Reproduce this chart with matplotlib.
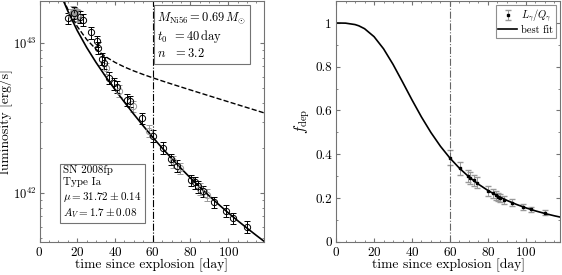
import numpy as np
import matplotlib.pyplot as plt
from matplotlib.ticker import MultipleLocator, LogLocator, NullFormatter, FixedLocator

plt.rcParams['font.family'] = 'serif'
plt.rcParams['font.serif'] = ['cmr10']
plt.rcParams['mathtext.fontset'] = 'cm'
plt.rcParams['axes.formatter.use_mathtext'] = True
plt.rcParams['axes.unicode_minus'] = False

# observed bolometric light curve (luminosity in 1e42 erg/s)
t_obs = [15.3, 16.8, 17.5, 18.2, 19.0, 19.8, 20.6, 21.5, 23.2, 27.1, 30.3, 31.2, 33.3, 34.4,
         35.3, 37.0, 39.7, 40.9, 42.3, 46.2, 48.0, 49.8, 54.5, 57.8, 60.0, 65.2, 69.6, 70.6,
         72.8, 74.2, 80.2, 82.5, 84.2, 85.1, 86.4, 88.7, 92.7, 98.6, 102.8, 109.9]
L_obs = [14.7, 15.5, 16.2, 16.0, 15.8, 15.5, 15.2, 15.0, 14.3, 11.8, 10.3, 9.3, 7.9, 7.4,
         6.8, 5.9, 5.4, 5.1, 4.8, 4.2, 4.1, 3.8, 3.16, 2.6, 2.4, 2.0, 1.69, 1.63,
         1.53, 1.47, 1.22, 1.18, 1.11, 1.07, 1.03, 0.975, 0.87, 0.762, 0.68, 0.60]
L_err = [1.3, 1.4, 1.5, 1.4, 1.4, 1.4, 1.4, 1.35, 1.3, 1.05, 0.93, 0.84, 0.71, 0.67,
         0.61, 0.53, 0.49, 0.46, 0.43, 0.38, 0.37, 0.34, 0.28, 0.23, 0.22, 0.18, 0.15, 0.15,
         0.14, 0.13, 0.11, 0.106, 0.10, 0.096, 0.093, 0.088, 0.078, 0.069, 0.061, 0.054]
grey_pts = [16.8, 17.5, 19.0, 19.8, 20.6, 35.3, 42.3, 49.8, 57.8, 70.6, 74.2, 85.1, 88.7]

# model curves
t_lum = [10, 12, 15, 20, 25, 30, 35, 40, 45, 50, 55, 60, 65, 70, 75, 80, 85, 90, 95,
         100, 105, 110, 115, 120]
Q_mod = [23.44, 20.36, 16.84, 12.94, 10.59, 9.114, 8.140, 7.458, 6.945, 6.536, 6.190, 5.885,
         5.607, 5.350, 5.109, 4.881, 4.665, 4.459, 4.262, 4.075, 3.895, 3.724, 3.561, 3.404]
L_mod = [23.27, 20.10, 16.41, 12.15, 9.369, 7.435, 6.009, 4.913, 4.050, 3.363, 2.810, 2.363,
         2.002, 1.707, 1.464, 1.264, 1.097, 0.958, 0.841, 0.741, 0.657, 0.585, 0.5225, 0.468]

t_f = [0, 5, 10, 12, 15, 20, 25, 30, 35, 40, 45, 50, 55, 60, 65, 70, 75, 80, 85, 90, 95,
       100, 105, 110, 115, 120]
f_mod = [1.0, 0.9992, 0.9927, 0.987, 0.9739, 0.9375, 0.8821, 0.8109, 0.7306, 0.6484, 0.570,
         0.4989, 0.4362, 0.3822, 0.336, 0.2965, 0.263, 0.2344, 0.2099, 0.1889, 0.1707,
         0.1549, 0.1411, 0.1291, 0.1185, 0.109]

# deposition fraction L_gamma/Q_gamma
t_dep = [60.0, 65.2, 69.6, 70.6, 72.8, 74.2, 80.2, 82.5, 84.2, 85.1, 86.4, 88.7, 92.7, 98.6,
         102.8, 109.9]
f_obs = [0.385, 0.335, 0.300, 0.292, 0.282, 0.270, 0.232, 0.222, 0.212, 0.205, 0.200, 0.190,
         0.178, 0.160, 0.148, 0.133]
f_err = [0.035, 0.030, 0.027, 0.026, 0.025, 0.024, 0.021, 0.020, 0.019, 0.018, 0.018, 0.017,
         0.016, 0.014, 0.013, 0.012]

spine_c = '0.45'
fs = 9.5
fl = 9.8

fig = plt.figure(figsize=(5.62, 2.75), dpi=100)
ax1 = fig.add_axes([0.0703, 0.121, 0.3995, 0.875])
ax2 = fig.add_axes([0.598, 0.121, 0.3985, 0.875])

# left panel
t_arr = np.array(t_obs)
L_arr = np.array(L_obs) * 1e42
E_arr = np.array(L_err) * 1e42
is_grey = np.isin(t_arr, grey_pts)
ax1.errorbar(t_arr[is_grey], L_arr[is_grey], yerr=E_arr[is_grey], fmt='o', ms=4.5,
             mfc='none', mec='0.6', ecolor='0.6', elinewidth=0.7, capsize=2, mew=0.7)
ax1.errorbar(t_arr[~is_grey], L_arr[~is_grey], yerr=E_arr[~is_grey], fmt='o', ms=4.5,
             mfc='none', mec='k', ecolor='k', elinewidth=0.7, capsize=2, mew=0.7)
ax1.plot(t_lum, np.array(Q_mod) * 1e42, 'k--', lw=1.0)
ax1.plot(t_lum, np.array(L_mod) * 1e42, 'k-', lw=1.2)
ax1.axvline(60, color='k', ls='-.', lw=0.8)

ax1.set_yscale('log')
ax1.set_xlim(0, 119)
ax1.set_ylim(4.75e41, 1.91e43)
ax1.xaxis.set_major_locator(FixedLocator([0, 20, 40, 60, 80, 100]))
ax1.xaxis.set_minor_locator(MultipleLocator(5))
ax1.yaxis.set_major_locator(LogLocator(base=10))
ax1.yaxis.set_minor_locator(LogLocator(base=10, subs=np.arange(2, 10)))
ax1.yaxis.set_minor_formatter(NullFormatter())
ax1.set_xlabel('time since explosion [day]', fontsize=fl, labelpad=0)
ax1.set_ylabel('luminosity [erg/s]', fontsize=fl)
ax1.yaxis.set_label_coords(-0.118, 0.5)

box = dict(boxstyle='square,pad=0.3', fc='white', ec='0.45', lw=0.8)
ax1.text(0.525, 0.962, '$M_{\\rm Ni56} = 0.69\\,M_{\\odot}$\n$t_0\\ \\,= 40\\,{\\rm day}$\n$n\\ \\ \\,= 3.2$',
         transform=ax1.transAxes, va='top', ha='left', fontsize=9, bbox=box, linespacing=1.2)
ax1.text(0.105, 0.09, 'SN 2008fp\nType Ia\n$\\mu = 31.72 \\pm 0.14$\n$A_V = 1.7 \\pm 0.08$',
         transform=ax1.transAxes, va='bottom', ha='left', fontsize=8, bbox=box, linespacing=1.25)

# right panel
eb = ax2.errorbar(t_dep, f_obs, yerr=f_err, fmt='s', ms=1.5, color='k', ecolor='0.6',
                  elinewidth=0.7, capsize=2, label='$L_{\\gamma}/Q_{\\gamma}$')
fit_line, = ax2.plot(t_f, f_mod, 'k-', lw=1.2, label='best fit')
ax2.axvline(60, color='0.4', ls='-.', lw=0.8)
ax2.set_xlim(0, 118)
ax2.set_ylim(0, 1.1)
ax2.xaxis.set_major_locator(FixedLocator([0, 20, 40, 60, 80, 100]))
ax2.xaxis.set_minor_locator(MultipleLocator(5))
ax2.yaxis.set_major_locator(FixedLocator([0, 0.2, 0.4, 0.6, 0.8, 1.0]))
ax2.yaxis.set_minor_locator(MultipleLocator(0.1))
ax2.set_yticklabels(['0', '0.2', '0.4', '0.6', '0.8', '1'])
ax2.set_xlabel('time since explosion [day]', fontsize=fl, labelpad=0)
ax2.set_ylabel('$f_{\\rm dep}$', fontsize=fl + 1, labelpad=2)
leg = ax2.legend([eb, fit_line], ['$L_{\\gamma}/Q_{\\gamma}$', 'best fit'],
                 loc='upper right', fontsize=7.5, frameon=True, fancybox=False,
                 handlelength=1.8, borderpad=0.25, labelspacing=0.15, handletextpad=0.4,
                 borderaxespad=0.4)
leg.get_frame().set_edgecolor('0.45')
leg.get_frame().set_linewidth(0.8)

for ax in (ax1, ax2):
    for s in ax.spines.values():
        s.set_color(spine_c)
        s.set_linewidth(0.8)
    ax.tick_params(which='both', direction='in', top=True, right=True, color=spine_c,
                   labelsize=fs, pad=3)
    ax.tick_params(which='major', length=3)
    ax.tick_params(which='minor', length=1.5)
ax1.tick_params(axis='y', labelsize=9, pad=2)

fig.savefig('out.png', dpi=100)
